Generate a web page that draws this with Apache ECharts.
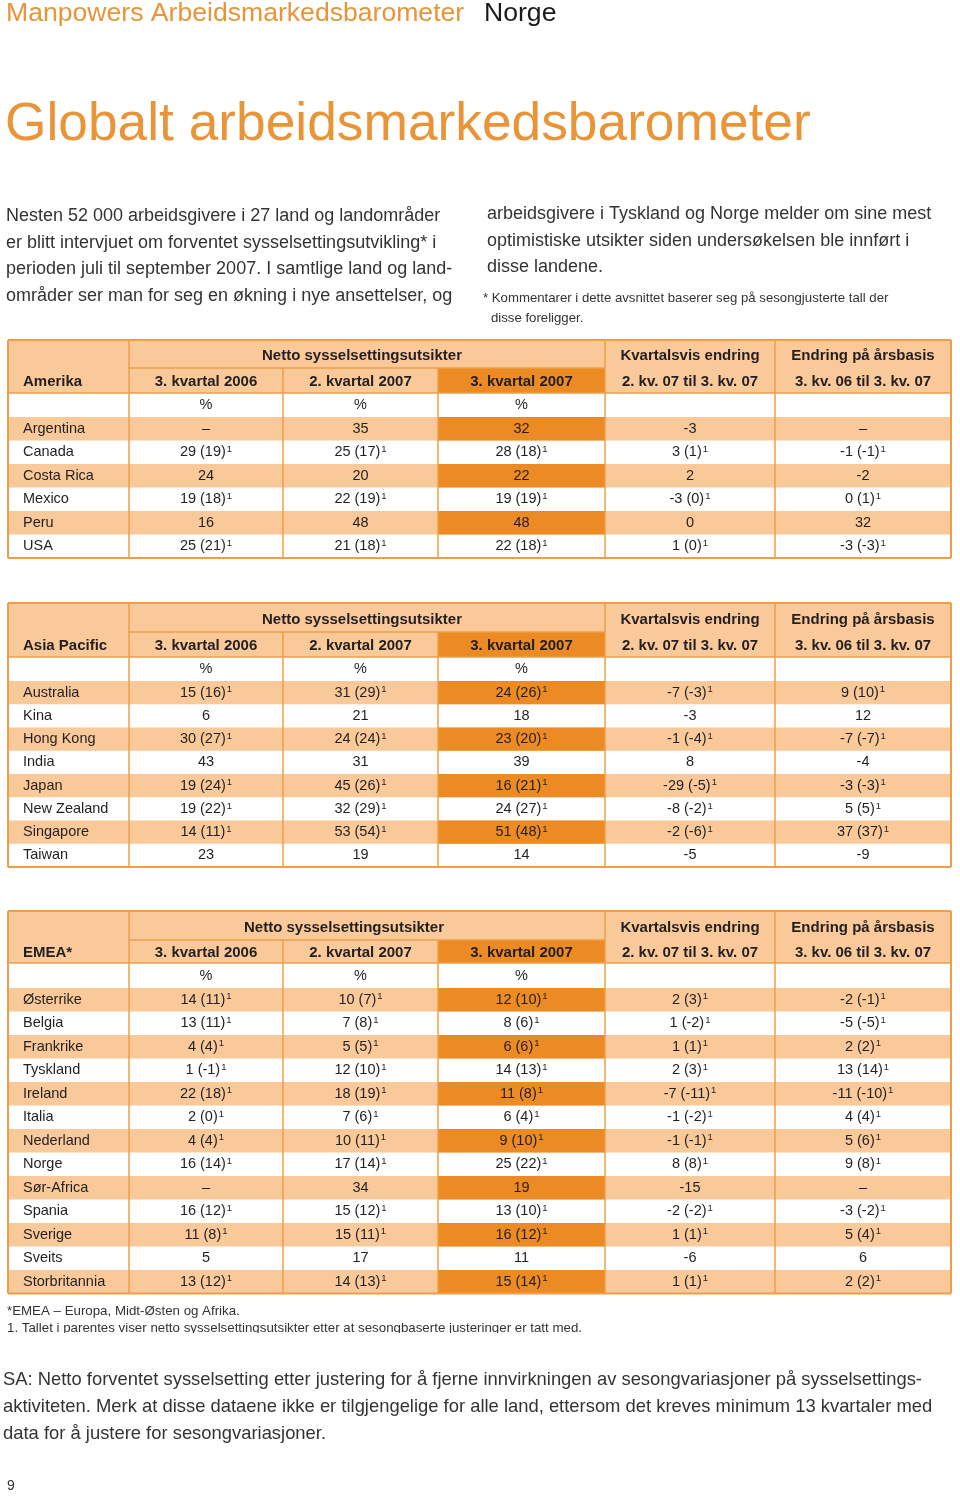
<!DOCTYPE html>
<html><head><meta charset="utf-8">
<script src="https://cdn.jsdelivr.net/npm/echarts@6/dist/echarts.min.js"></script>
<style>html,body{margin:0;padding:0;background:#fff}#c{width:960px;height:1496px}</style>
</head><body><div id="c"></div>
<script>
// ---------- DATA ----------
const groupHeader = 'Netto sysselsettingsutsikter';
const columnHeaders = ['3. kvartal 2006', '2. kvartal 2007', '3. kvartal 2007'];
const changeHeaders = ['Kvartalsvis endring', 'Endring på årsbasis'];
const changeSubHeaders = ['2. kv. 07 til 3. kv. 07', '3. kv. 06 til 3. kv. 07'];
const unitLabel = '%';
const regionNames = ['Amerika', 'Asia Pacific', 'EMEA*'];

const amerikaCountries = ['Argentina', 'Canada', 'Costa Rica', 'Mexico', 'Peru', 'USA'];
const amerikaQ3_2006 = ['–', '29 (19)¹', '24', '19 (18)¹', '16', '25 (21)¹'];
const amerikaQ2_2007 = ['35', '25 (17)¹', '20', '22 (19)¹', '48', '21 (18)¹'];
const amerikaQ3_2007 = ['32', '28 (18)¹', '22', '19 (19)¹', '48', '22 (18)¹'];
const amerikaQoQ = ['-3', '3 (1)¹', '2', '-3 (0)¹', '0', '1 (0)¹'];
const amerikaYoY = ['–', '-1 (-1)¹', '-2', '0 (1)¹', '32', '-3 (-3)¹'];

const asiaCountries = ['Australia', 'Kina', 'Hong Kong', 'India', 'Japan', 'New Zealand', 'Singapore', 'Taiwan'];
const asiaQ3_2006 = ['15 (16)¹', '6', '30 (27)¹', '43', '19 (24)¹', '19 (22)¹', '14 (11)¹', '23'];
const asiaQ2_2007 = ['31 (29)¹', '21', '24 (24)¹', '31', '45 (26)¹', '32 (29)¹', '53 (54)¹', '19'];
const asiaQ3_2007 = ['24 (26)¹', '18', '23 (20)¹', '39', '16 (21)¹', '24 (27)¹', '51 (48)¹', '14'];
const asiaQoQ = ['-7 (-3)¹', '-3', '-1 (-4)¹', '8', '-29 (-5)¹', '-8 (-2)¹', '-2 (-6)¹', '-5'];
const asiaYoY = ['9 (10)¹', '12', '-7 (-7)¹', '-4', '-3 (-3)¹', '5 (5)¹', '37 (37)¹', '-9'];

const emeaCountries = ['Østerrike', 'Belgia', 'Frankrike', 'Tyskland', 'Ireland', 'Italia', 'Nederland', 'Norge', 'Sør-Africa', 'Spania', 'Sverige', 'Sveits', 'Storbritannia'];
const emeaQ3_2006 = ['14 (11)¹', '13 (11)¹', '4 (4)¹', '1 (-1)¹', '22 (18)¹', '2 (0)¹', '4 (4)¹', '16 (14)¹', '–', '16 (12)¹', '11 (8)¹', '5', '13 (12)¹'];
const emeaQ2_2007 = ['10 (7)¹', '7 (8)¹', '5 (5)¹', '12 (10)¹', '18 (19)¹', '7 (6)¹', '10 (11)¹', '17 (14)¹', '34', '15 (12)¹', '15 (11)¹', '17', '14 (13)¹'];
const emeaQ3_2007 = ['12 (10)¹', '8 (6)¹', '6 (6)¹', '14 (13)¹', '11 (8)¹', '6 (4)¹', '9 (10)¹', '25 (22)¹', '19', '13 (10)¹', '16 (12)¹', '11', '15 (14)¹'];
const emeaQoQ = ['2 (3)¹', '1 (-2)¹', '1 (1)¹', '2 (3)¹', '-7 (-11)¹', '-1 (-2)¹', '-1 (-1)¹', '8 (8)¹', '-15', '-2 (-2)¹', '1 (1)¹', '-6', '1 (1)¹'];
const emeaYoY = ['-2 (-1)¹', '-5 (-5)¹', '2 (2)¹', '13 (14)¹', '-11 (-10)¹', '4 (4)¹', '5 (6)¹', '9 (8)¹', '–', '-3 (-2)¹', '5 (4)¹', '6', '2 (2)¹'];

// ---------- LAYOUT / STYLE ----------
const FONT = '"Liberation Sans", Arial, Helvetica, sans-serif';
const LIGHT = '#F9C99A';
const DARK = '#EC8B24';
const LINE = '#EE9E4A';
const TXT = '#231F20';
const ORANGE_TITLE = '#EA9438';
const colEdges = [8, 129, 283, 438, 605, 775, 951];
const tables = [
  { name: regionNames[0], countries: amerikaCountries, cols: [amerikaQ3_2006, amerikaQ2_2007, amerikaQ3_2007, amerikaQoQ, amerikaYoY], top: 340, h1: 28, h2: 25, hp: 24, rh: 23.5, nettoX: 362 },
  { name: regionNames[1], countries: asiaCountries, cols: [asiaQ3_2006, asiaQ2_2007, asiaQ3_2007, asiaQoQ, asiaYoY], top: 603, h1: 29, h2: 25, hp: 24, rh: 23.25, nettoX: 362 },
  { name: regionNames[2], countries: emeaCountries, cols: [emeaQ3_2006, emeaQ2_2007, emeaQ3_2007, emeaQoQ, emeaYoY], top: 911, h1: 29, h2: 23, hp: 25, rh: 23.5, nettoX: 344 }
];

const items = [];
tables.forEach((T, t) => {
  items.push({ t, kind: 'head' });
  items.push({ t, kind: 'pct' });
  T.countries.forEach((c, i) => items.push({ t, kind: 'row', i }));
});
tables.forEach((T, t) => items.push({ t, kind: 'frame' }));

// superscript "¹" rendered as raised small rich-text token
const toRich = s => s.replace(/¹/g, '{sup|1}');

function renderItem(params, api) {
  const it = items[params.dataIndex];
  const T = tables[it.t];
  const P = (x, y) => api.coord([x, y]);
  const rect = (x0, y0, x1, y1, fill) => {
    const a = P(x0, y0), b = P(x1, y1);
    return { type: 'rect', shape: { x: a[0], y: a[1], width: b[0] - a[0], height: b[1] - a[1] }, style: { fill: fill } };
  };
  const text = (s, x, y, align, bold) => {
    const a = P(x, y);
    const size = bold ? 15 : 14.5;
    return { type: 'text', z2: 5, style: {
      text: toRich(s), x: a[0], y: a[1], align: align, verticalAlign: 'middle',
      font: (bold ? 'bold ' : '') + size + 'px ' + FONT, fill: TXT, lineHeight: 16,
      rich: { sup: { fontSize: 9.5, fontFamily: FONT, verticalAlign: 'top', lineHeight: 16, fill: TXT, padding: [0, 0, 0, 1] } }
    } };
  };
  const line = (x0, y0, x1, y1, w) => {
    const a = P(x0, y0), b = P(x1, y1);
    return { type: 'line', z2: 10, shape: { x1: a[0], y1: a[1], x2: b[0], y2: b[1] }, style: { stroke: LINE, lineWidth: w || 1.5 } };
  };
  const cx = c => (colEdges[c] + colEdges[c + 1]) / 2;
  const yH1 = T.top + T.h1, yH2 = yH1 + T.h2, yP = yH2 + T.hp;
  const bottom = yP + T.rh * T.countries.length;
  const ch = [];
  if (it.kind === 'head') {
    ch.push(rect(colEdges[0], T.top, colEdges[6], yH2, LIGHT));
    ch.push(rect(colEdges[3], yH1, colEdges[4], yH2, DARK));
    ch.push(text(T.name, 23, (yH1 + yH2) / 2 + 1, 'left', true));
    ch.push(text(groupHeader, T.nettoX, (T.top + yH1) / 2 + 2, 'center', true));
    columnHeaders.forEach((h, k) => ch.push(text(h, cx(k + 1), (yH1 + yH2) / 2 + 1, 'center', true)));
    changeHeaders.forEach((h, k) => ch.push(text(h, cx(k + 4), (T.top + yH1) / 2 + 2, 'center', true)));
    changeSubHeaders.forEach((h, k) => ch.push(text(h, cx(k + 4), (yH1 + yH2) / 2 + 1, 'center', true)));
  } else if (it.kind === 'pct') {
    for (let k = 1; k <= 3; k++) ch.push(text(unitLabel, cx(k), (yH2 + yP) / 2, 'center', false));
  } else if (it.kind === 'row') {
    const y0 = yP + T.rh * it.i, y1 = y0 + T.rh, ym = (y0 + y1) / 2;
    if (it.i % 2 === 0) {
      ch.push(rect(colEdges[0], y0, colEdges[6], y1, LIGHT));
      ch.push(rect(colEdges[3], y0, colEdges[4], y1, DARK));
    }
    ch.push(text(T.countries[it.i], 23, ym, 'left', false));
    T.cols.forEach((col, k) => ch.push(text(col[it.i], cx(k + 1), ym, 'center', false)));
  } else {
    ch.push(line(colEdges[0], T.top, colEdges[6], T.top, 2));
    ch.push(line(colEdges[0], bottom, colEdges[6], bottom, 2));
    ch.push(line(colEdges[0], T.top, colEdges[0], bottom, 2));
    ch.push(line(colEdges[6], T.top, colEdges[6], bottom, 2));
    ch.push(line(colEdges[1], T.top, colEdges[1], bottom));
    ch.push(line(colEdges[2], yH1, colEdges[2], bottom));
    ch.push(line(colEdges[3], yH1, colEdges[3], bottom));
    ch.push(line(colEdges[4], T.top, colEdges[4], bottom));
    ch.push(line(colEdges[5], T.top, colEdges[5], bottom));
    ch.push(line(colEdges[1], yH1, colEdges[4], yH1));
    ch.push(line(colEdges[0], yH2, colEdges[6], yH2));
  }
  return { type: 'group', children: ch };
}

// ---------- PAGE TEXT ----------
const headerText = 'Manpowers Arbeidsmarkedsbarometer';
const headerCountry = 'Norge';
const pageTitle = 'Globalt arbeidsmarkedsbarometer';
const introLeft = ['Nesten 52 000 arbeidsgivere i 27 land og landområder', 'er blitt intervjuet om forventet sysselsettingsutvikling* i', 'perioden juli til september 2007. I samtlige land og land-', 'områder ser man for seg en økning i nye ansettelser, og'];
const introRight = ['arbeidsgivere i Tyskland og Norge melder om sine mest', 'optimistiske utsikter siden undersøkelsen ble innført i', 'disse landene.'];
const introNote = ['* Kommentarer i dette avsnittet baserer seg på sesongjusterte tall der', 'disse foreligger.'];
const footNotes = ['*EMEA – Europa, Midt-Østen og Afrika.', '1. Tallet i parentes viser netto sysselsettingsutsikter etter at sesongbaserte justeringer er tatt med.'];
const saText = ['SA: Netto forventet sysselsetting etter justering for å fjerne innvirkningen av sesongvariasjoner på sysselsettings-', 'aktiviteten. Merk at disse dataene ikke er tilgjengelige for alle land, ettersom det kreves minimum 13 kvartaler med', 'data for å justere for sesongvariasjoner.'];
const pageNumber = '9';

const g = [];
const T = (s, x, y, size, color) => g.push({ type: 'text', x: x, y: y, style: { text: s, font: size + 'px ' + FONT, fill: color, verticalAlign: 'middle', align: 'left' } });
T(headerText, 6, 14, 26.6, ORANGE_TITLE);
T(headerCountry, 484, 14, 26.6, '#1a1a1a');
T(pageTitle, 5, 125, 53.3, ORANGE_TITLE);
introLeft.forEach((s, i) => T(s, 6, 216 + i * 26.7, 18, '#333'));
introRight.forEach((s, i) => T(s, 487, 214 + i * 26.7, 18, '#333'));
T(introNote[0], 483, 298, 13.2, '#333');
T(introNote[1], 491, 318, 13.2, '#333');
T(footNotes[0], 7, 1311, 13.3, '#333');
T(footNotes[1], 7, 1328, 13.3, '#333');
g.push({ type: 'rect', shape: { x: 0, y: 1333, width: 960, height: 12 }, style: { fill: '#fff' }, z: 100 });
saText.forEach((s, i) => T(s, 3, 1380 + i * 27, 18.4, '#333'));
T(pageNumber, 7, 1486, 14, '#333');

const chart = echarts.init(document.getElementById('c'), null, { renderer: 'canvas' });
chart.setOption({
  animation: false,
  backgroundColor: '#fff',
  grid: { left: 0, top: 0, width: 960, height: 1496 },
  xAxis: { type: 'value', min: 0, max: 960, show: false },
  yAxis: { type: 'value', min: 0, max: 1496, inverse: true, show: false },
  series: [{ type: 'custom', renderItem: renderItem, data: items.map((d, i) => [i, i]), clip: false, silent: true }],
  graphic: g
});
</script></body></html>
